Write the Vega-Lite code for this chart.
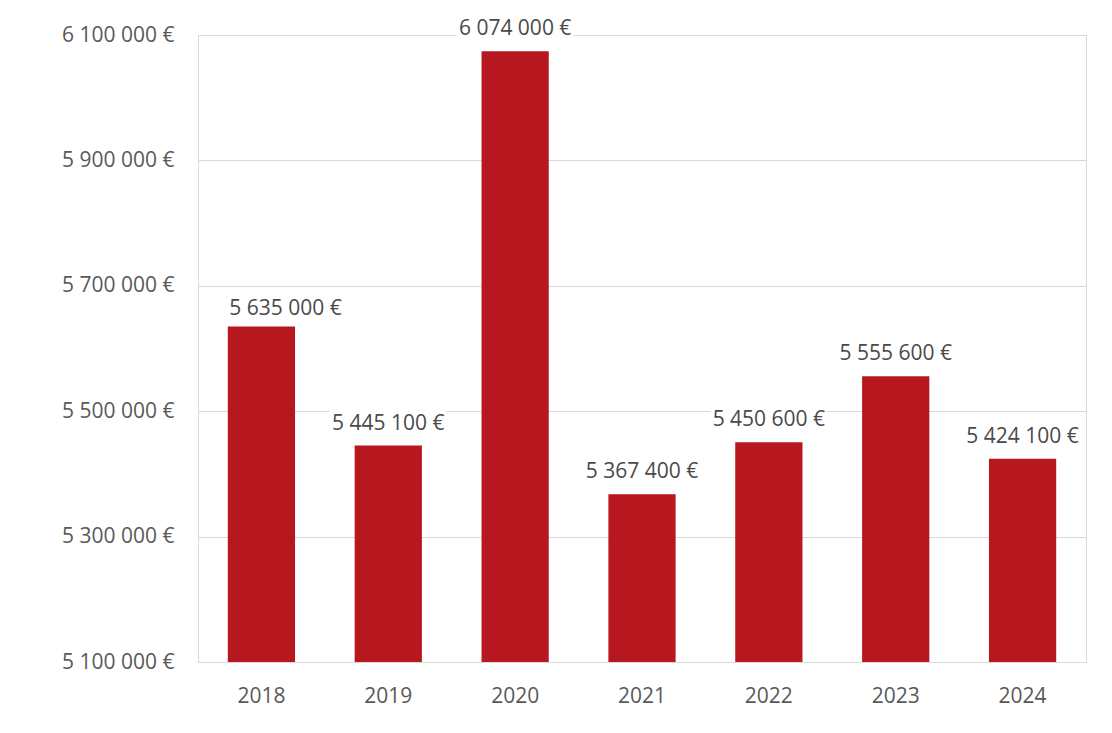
{
  "$schema": "https://vega.github.io/schema/vega-lite/v6.json",
  "width": 888,
  "height": 627,
  "autosize": "none",
  "padding": {"left": 198, "top": 35, "right": 26, "bottom": 71},
  "background": "white",
  "data": {"values": [
    {"year": "2018", "value": 5635000},
    {"year": "2019", "value": 5445100},
    {"year": "2020", "value": 6074000},
    {"year": "2021", "value": 5367400},
    {"year": "2022", "value": 5450600},
    {"year": "2023", "value": 5555600},
    {"year": "2024", "value": 5424100}
  ]},
  "config": {
    "locale": {"number": {"decimal": ",", "thousands": " ", "grouping": [3], "currency": ["", " €"]}},
    "view": {"stroke": "#D9D9D9", "strokeWidth": 1},
    "font": "Open Sans",
    "axis": {"labelFont": "Open Sans", "labelFontSize": 21, "labelColor": "#595959", "title": null}
  },
  "encoding": {
    "x": {"field": "year", "type": "ordinal", "sort": null,
      "scale": {"paddingInner": 0.47, "paddingOuter": 0.235},
      "axis": {"labelAngle": 0, "ticks": false, "domainColor": "#D9D9D9", "labelPadding": 34, "labelBaseline": "middle", "grid": false}},
    "y": {"field": "value", "type": "quantitative",
      "scale": {"domain": [5100000, 6100000], "nice": false, "zero": false},
      "axis": {"values": [5100000, 5300000, 5500000, 5700000, 5900000, 6100000], "format": "$,.0f", "ticks": false, "domain": false, "gridColor": "#D9D9D9", "labelPadding": 24}}
  },
  "layer": [
    {"mark": {"type": "bar", "color": "#B7181F", "clip": true}},
    {"mark": {"type": "point", "shape": "M-1,-0.23H1V0.23H-1Z", "filled": true, "color": "white", "opacity": 1, "size": 13700, "yOffset": -22, "xOffset": {"expr": "datum.year === '2018' ? 24 : 0"}}},
    {"mark": {"type": "text", "fontSize": 21, "color": "#4A4A4A", "baseline": "middle", "yOffset": {"expr": "datum.year === '2018' ? -18 : -22"}, "xOffset": {"expr": "datum.year === '2018' ? 24 : 0"}}, "encoding": {"text": {"field": "value", "type": "quantitative", "format": "$,.0f"}}}
  ]
}
